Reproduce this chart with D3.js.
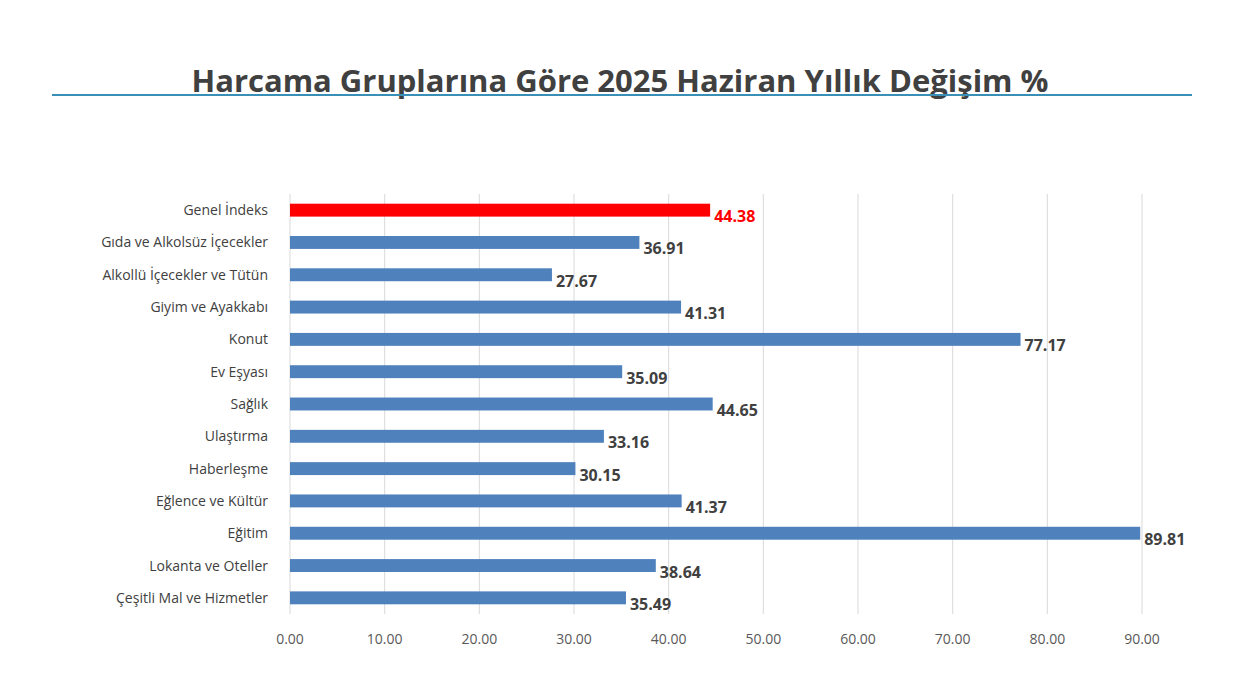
<!DOCTYPE html>
<html><head><meta charset="utf-8">
<script src="https://cdn.jsdelivr.net/npm/d3@7"></script>
<style>body{margin:0;background:#fff;font-family:"Open Sans",sans-serif;}</style>
</head><body>
<svg id="c" width="1245" height="700"></svg>
<script>
var categories = ["Genel İndeks","Gıda ve Alkolsüz İçecekler","Alkollü İçecekler ve Tütün","Giyim ve Ayakkabı","Konut","Ev Eşyası","Sağlık","Ulaştırma","Haberleşme","Eğlence ve Kültür","Eğitim","Lokanta ve Oteller","Çeşitli Mal ve Hizmetler"];
var values = [44.38,36.91,27.67,41.31,77.17,35.09,44.65,33.16,30.15,41.37,89.81,38.64,35.49];
var ticks = [0,10,20,30,40,50,60,70,80,90];

var svg = d3.select("#c");

// title and rule
svg.append("text").attr("x", 620).attr("y", 92).attr("text-anchor", "middle")
    .attr("font-size", 31).attr("font-weight", "bold").attr("fill", "#404040")
    .text("Harcama Gruplarına Göre 2025 Haziran Yıllık Değişim %");
svg.append("line").attr("x1", 52).attr("x2", 1192).attr("y1", 95).attr("y2", 95)
    .style("stroke", "#3a8fb7").style("stroke-width", 2);

var x = d3.scaleLinear().domain([0, 90]).range([290, 1142]);
var y = d3.scaleBand().domain(categories).range([194, 614]).paddingInner(0.6).paddingOuter(0.3);

// gridlines
svg.selectAll(".grid").data(ticks).enter().append("line")
    .attr("x1", d => x(d)).attr("x2", d => x(d))
    .attr("y1", 194).attr("y2", 614)
    .style("stroke", "#d9d9d9");

// x axis labels
svg.selectAll(".tick").data(ticks).enter().append("text")
    .attr("x", d => x(d)).attr("y", 644).attr("text-anchor", "middle")
    .attr("font-size", 14).attr("fill", "#595959")
    .text(d => d.toFixed(2));

// category labels
svg.selectAll(".cat").data(categories).enter().append("text")
    .attr("x", 268).attr("y", d => y(d) + y.bandwidth() / 2 + 5)
    .attr("text-anchor", "end").attr("font-size", 14).attr("fill", "#404040")
    .text(d => d);

// bars
svg.selectAll(".bar").data(values).enter().append("rect")
    .attr("x", x(0)).attr("y", (d, i) => y(categories[i]))
    .attr("width", d => x(d) - x(0)).attr("height", y.bandwidth())
    .attr("fill", (d, i) => i === 0 ? "#ff0000" : "#4f81bd");

// value labels
svg.selectAll(".val").data(values).enter().append("text")
    .attr("x", d => x(d) + 4).attr("y", (d, i) => y(categories[i]) + y.bandwidth() / 2 + 12)
    .attr("font-size", 16).attr("font-weight", "bold")
    .attr("fill", (d, i) => i === 0 ? "#ff0000" : "#404040")
    .text(d => d.toFixed(2));
</script>
</body></html>
